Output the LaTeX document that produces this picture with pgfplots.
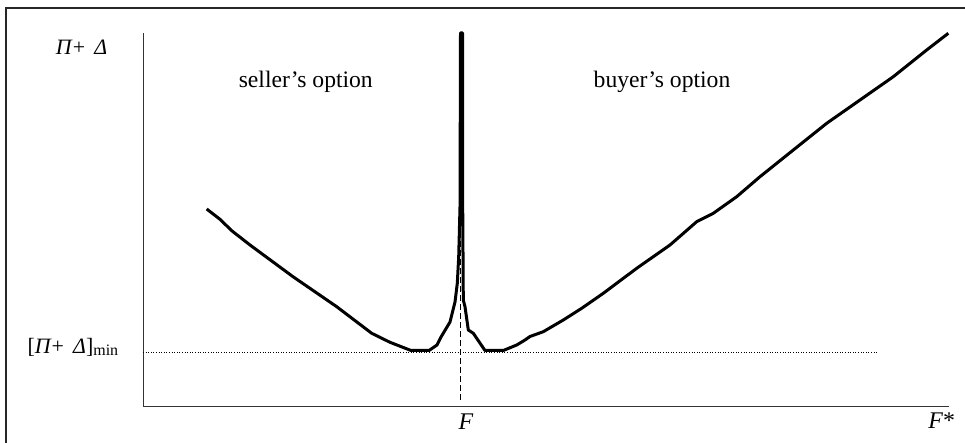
\documentclass[border=0pt]{standalone}
\usepackage{fontspec}
\setmainfont{Liberation Serif}
\usepackage{pgfplots}
\pgfplotsset{compat=1.18}
\pgfplotstableread{
x y
63.7 197
77 186.7
88.7 175.3
107 161
150 129.3
193.7 99.3
228.7 72.7
247 63.7
268 55.5
286 55.5
294 61
298 69
307 84
312 104
314.3 122.7
315.7 149.3
317 199.3
317.5 373
319.5 373
319.7 199.3
320.3 106
322 99.3
325.3 76
330.3 72.7
342 55.5
360.3 55.5
373.7 61
382 66
387 69.5
400.3 74.3
420.3 86
438.7 97.7
460.3 112.7
493.7 137.7
527 161
553.7 184.3
570.3 192.7
593.7 209.3
617 229.3
650.3 256
683.7 282.7
717 306
750.3 329.3
783.7 356
805.3 372.7
}\curve
\pgfplotstableread{
x y
0 54
735 54
}\minline
\pgfplotstableread{
x y
317.7 6
317.7 373
}\fline
\begin{document}
\begin{tikzpicture}[x=1bp,y=1bp]
\useasboundingbox (-143,-37) rectangle (822,406);
\draw[line width=1.6bp, black!85] (-137,-60) -- (-137,398) -- (850,398);
\begin{axis}[at={(0,0)}, anchor=south west, scale only axis,
  width=806bp, height=373bp, xmin=0, xmax=806, ymin=0, ymax=373,
  axis lines*=left, axis line style={line width=0.9bp, black!80},
  xtick=\empty, ytick=\empty, clip=false]
\addplot[black, line width=0.9bp, dash pattern=on 1bp off 1.6bp] table {\minline};
\addplot[black, line width=1.2bp, dash pattern=on 6bp off 3bp] table {\fline};
\addplot[black, line width=3bp, line join=round] table {\curve};
\node[font=\fontsize{23.7}{28}\selectfont] at (162.8,324) {seller’s option};
\node[font=\fontsize{23.7}{28}\selectfont] at (519,324) {buyer’s option};
\node[font=\fontsize{22}{26}\selectfont] at (-61.5,358.5) {\textit{Π}+\, \textit{Δ}};
\node[font=\fontsize{22}{26}\selectfont, anchor=west] at (-119,59) {[\textit{Π}+\, \textit{Δ}]{\fontsize{16}{18}\selectfont\raisebox{-2.5bp}{min}}};
\node[font=\fontsize{24}{28}\selectfont] at (323,-16) {\textit{F}};
\node[font=\fontsize{24}{28}\selectfont] at (798.7,-15) {\textit{F}*};
\end{axis}
\end{tikzpicture}
\end{document}
